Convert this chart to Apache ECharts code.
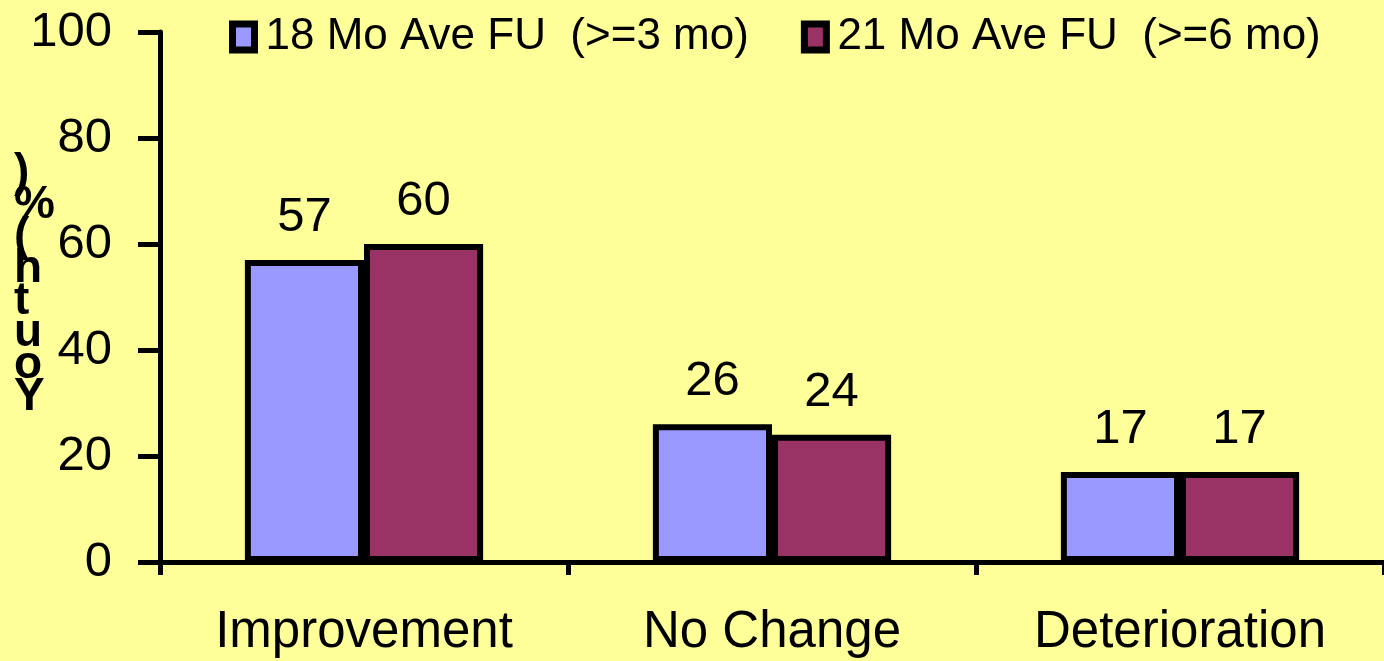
<!DOCTYPE html>
<html>
<head>
<meta charset="utf-8">
<script src="https://cdn.jsdelivr.net/npm/echarts@6/dist/echarts.min.js"></script>
<style>
  html, body { margin: 0; padding: 0; background: #FFFF99; }
  #chart { width: 1384px; height: 661px; }
</style>
</head>
<body>
<div id="chart"></div>
<script>
var categories = ['Improvement', 'No Change', 'Deterioration'];
var seriesNames = ['18 Mo Ave FU  (>=3 mo)', '21 Mo Ave FU  (>=6 mo)'];
var values18 = [57, 26, 17];
var values21 = [60, 24, 17];
var yTicks = { min: 0, max: 100, interval: 20 };
var yAxisTitle = 'Youth (%)';

var FONT = '"Liberation Sans", Arial, sans-serif';
var stacked = yAxisTitle.replace(/ /g, '').split('').reverse().join('\n');

var chart = echarts.init(document.getElementById('chart'), null, { renderer: 'canvas' });
chart.setOption({
  backgroundColor: '#FFFF99',
  animation: false,
  textStyle: { fontFamily: FONT, color: '#000' },
  legend: {
    left: 229,
    top: 15,
    padding: 0,
    itemGap: 52,
    itemWidth: 22,
    itemHeight: 26,
    icon: 'rect',
    itemStyle: { borderColor: '#000', borderWidth: 7 },
    textStyle: { fontSize: 44, fontFamily: FONT, color: '#000', padding: [0, 0, 0, 6] },
    data: seriesNames
  },
  grid: { left: 160, top: 32, bottom: 99, width: 1233, containLabel: false },
  xAxis: {
    type: 'category',
    data: categories,
    axisLine: { lineStyle: { color: '#000', width: 5 } },
    axisTick: { show: true, length: 13, lineStyle: { color: '#000', width: 5 }, alignWithLabel: false },
    axisLabel: { fontSize: 51, fontFamily: FONT, color: '#000', margin: 45 },
    splitLine: { show: false }
  },
  yAxis: {
    type: 'value',
    min: yTicks.min,
    max: yTicks.max,
    interval: yTicks.interval,
    axisLine: { show: true, lineStyle: { color: '#000', width: 5 } },
    axisTick: { show: true, length: 22, lineStyle: { color: '#000', width: 5 } },
    axisLabel: { fontSize: 49, fontFamily: FONT, color: '#000', margin: 48 },
    splitLine: { show: false }
  },
  graphic: [{
    type: 'text',
    left: 14,
    top: 150,
    style: {
      text: stacked,
      font: 'bold 46px ' + FONT,
      fill: '#000',
      align: 'center',
      lineHeight: 32
    }
  }],
  series: [
    {
      name: seriesNames[0],
      type: 'bar',
      data: values18,
      barGap: '0%',
      barCategoryGap: '41.6%',
      itemStyle: { color: '#9999FF', borderColor: '#000', borderWidth: 6 },
      label: { show: true, position: 'top', distance: 18, fontSize: 49, fontFamily: FONT, color: '#000' }
    },
    {
      name: seriesNames[1],
      type: 'bar',
      data: values21,
      barGap: '0%',
      barCategoryGap: '41.6%',
      itemStyle: { color: '#993366', borderColor: '#000', borderWidth: 6 },
      label: { show: true, position: 'top', distance: 18, fontSize: 49, fontFamily: FONT, color: '#000' }
    }
  ]
});
</script>
</body>
</html>
